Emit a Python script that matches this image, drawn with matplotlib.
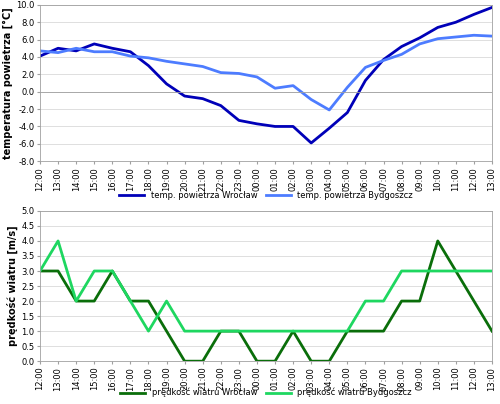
import matplotlib
matplotlib.use("Agg")
import matplotlib.pyplot as plt
import numpy as np

hours = ["12:00","13:00","14:00","15:00","16:00","17:00","18:00","19:00","20:00","21:00","22:00","23:00","00:00",
         "01:00","02:00","03:00","04:00","05:00","06:00","07:00","08:00","09:00","10:00","11:00","12:00","13:00"]
temp_wroclaw = [4.1,5.0,4.7,5.5,5.0,4.6,3.0,0.9,-0.5,-0.8,-1.6,-3.3,-3.7,-4.0,-4.0,-5.9,-4.2,-2.4,1.3,3.7,5.2,6.2,7.4,8.0,8.9,9.7]
temp_bydgoszcz = [4.7,4.5,5.0,4.6,4.6,4.1,3.9,3.5,3.2,2.9,2.2,2.1,1.7,0.4,0.7,-0.9,-2.1,0.5,2.8,3.6,4.3,5.5,6.1,6.3,6.5,6.4]
wind_wroclaw = [3,3,2,2,3,2,2,1,0,0,1,1,0,0,1,0,0,1,1,1,2,2,4,3,2,1]
wind_bydgoszcz = [3,4,2,3,3,2,1,2,1,1,1,1,1,1,1,1,1,1,2,2,3,3,3,3,3,3]

fig = plt.figure(figsize=(5, 4.04), dpi=100)
ax1 = fig.add_axes([0.08, 0.601, 0.904, 0.387])
ax2 = fig.add_axes([0.08, 0.106, 0.904, 0.372])
x = np.arange(len(hours))

def style(ax, ylim, step, fmt):
    ax.set_xlim(0, len(hours)-1)
    ax.set_ylim(*ylim)
    ax.set_yticks(np.arange(ylim[0], ylim[1]+step/2, step))
    ax.set_yticklabels([fmt % v for v in np.arange(ylim[0], ylim[1]+step/2, step)], fontsize=6)
    ax.set_xticks(x)
    ax.set_xticklabels(hours, rotation=90, fontsize=6)
    ax.grid(axis='y', color='#d9d9d9', lw=0.6)
    ax.set_axisbelow(True)
    for s in ax.spines.values():
        s.set_color('#a0a0a0'); s.set_linewidth(0.6)
    ax.tick_params(length=2, color='#a0a0a0', pad=2)

ax1.plot(x, temp_wroclaw, color='#0000b8', lw=2, label='temp. powietrza Wrocław')
ax1.plot(x, temp_bydgoszcz, color='#4d7cff', lw=2, label='temp. powietrza Bydgoszcz')
style(ax1, (-8, 10), 2, '%.1f')
ax1.axhline(0, color='#a0a0a0', lw=0.6)
ax1.set_ylabel('temperatura powietrza [°C]', fontsize=7, fontweight='bold', labelpad=2)
ax1.legend(loc='center', bbox_to_anchor=(0.5, -0.22), ncol=2, frameon=False, fontsize=6,
           handlelength=3, columnspacing=1, borderpad=0)

ax2.plot(x, wind_wroclaw, color='#0a6e0a', lw=2, label='prędkość wiatru Wrocław')
ax2.plot(x, wind_bydgoszcz, color='#1ed760', lw=2, label='prędkość wiatru Bydgoszcz')
style(ax2, (0, 5), 0.5, '%.1f')
ax2.set_ylabel('prędkość wiatru [m/s]', fontsize=7, fontweight='bold', labelpad=2)
ax2.legend(loc='center', bbox_to_anchor=(0.5, -0.21), ncol=2, frameon=False, fontsize=6,
           handlelength=3, columnspacing=1, borderpad=0)

fig.savefig('out.png', dpi=100)
